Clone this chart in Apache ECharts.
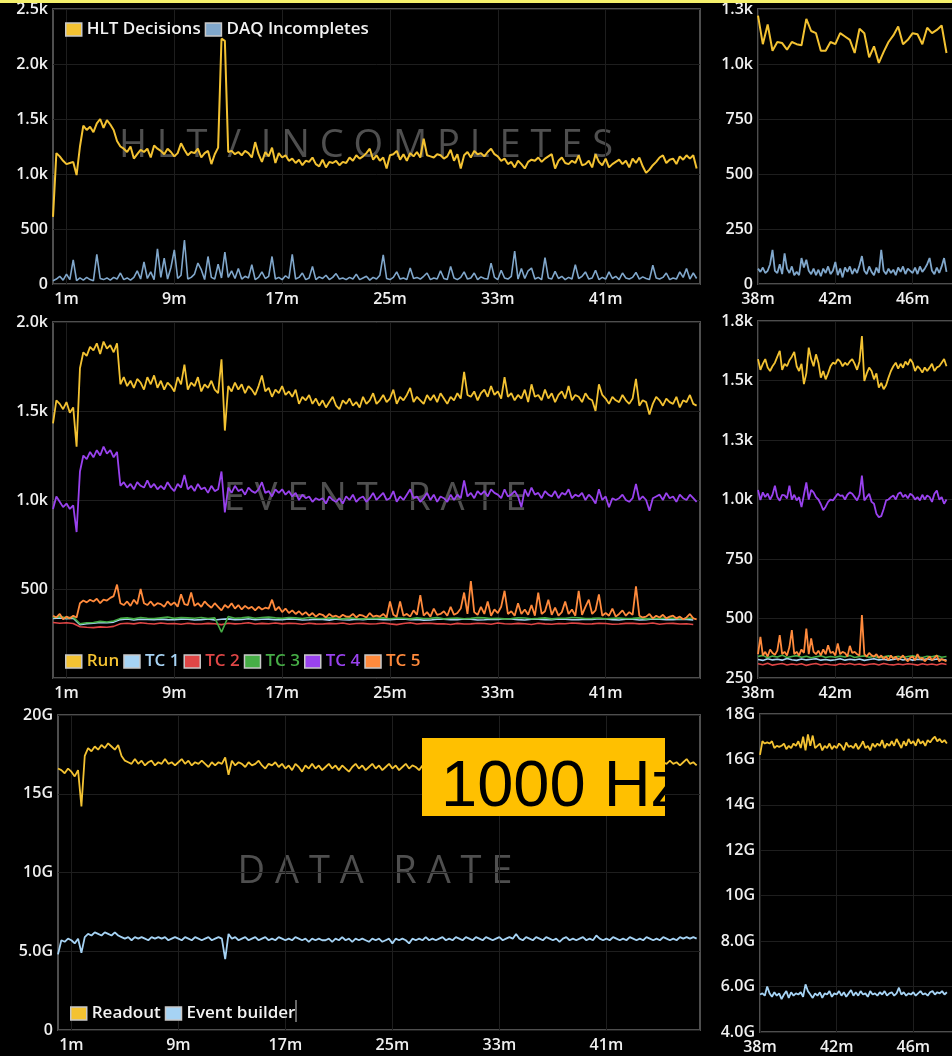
<!DOCTYPE html>
<html><head><meta charset="utf-8">
<script src="https://cdn.jsdelivr.net/npm/echarts@6/dist/echarts.min.js"></script>
<style>
html,body{margin:0;padding:0;background:#000;overflow:hidden;width:952px;height:1056px}
#c{position:absolute;left:0;top:0;width:1000px;height:1056px}
#box{position:absolute;left:422px;top:738px;width:243px;height:78px}
</style>
</head><body><div id="c"></div><div id="box"></div>
<script>
// ---------- tick labels ----------
const leftTicks = [1, 9, 17, 25, 33, 41];
const rightTicks = [38, 42, 46];

// ---------- left column (t = 0 .. 47.75 min) ----------
const hltDecisions = [610,1190,1160,1120, 1090,1100,1110,990, 1250,1440,1400,1430, 1380,1460,1500,1420, 1490,1450,1400,1300, 1250,1230,1200,1250, 1140,1180,1220,1200, 1230,1150,1260,1230, 1210,1180,1230,1200, 1160,1190,1280,1220, 1170,1200,1190,1230, 1150,1190,1210,1090, 1180,1240,2230,2210, 1200,1210,1180,1200, 1170,1210,1190,1150, 1290,1180,1110,1200, 1160,1240,1100,1190, 1150,1170,1120,1140, 1100,1130,1080,1120, 1110,1150,1090,1070, 1130,1060,1110,1100, 1120,1080,1110,1100, 1150,1120,1170,1140, 1160,1190,1230,1130, 1170,1120,1150,1050, 1170,1180,1210,1130, 1180,1120,1190,1160, 1200,1150,1320,1170, 1160,1150,1180,1170, 1140,1160,1220,1120, 1180,1050,1170,1200, 1150,1210,1180,1190, 1160,1200,1230,1180, 1160,1120,1140,1090, 1110,1060,1120,1090, 1050,1110,1130,1120, 1150,1110,1140,1160, 1180,1050,1120,1150, 1100,1090,1120,1100, 1170,1080,1090,1120, 1060,1180,1110,1080, 1140,1060,1090,1110, 1130,1090,1120,1060, 1140,1100,1150,1070, 1010,1040,1080,1110, 1150,1170,1100,1130, 1140,1090,1160,1130, 1170,1140,1170,1050];
const daqIncompletes = [30,45,70,35, 90,40,220,30, 55,35,60,40, 30,270,50,40, 55,35,60,45, 100,40,55,35, 60,120,45,200, 50,110,40,320, 60,235,45,150, 310,50,80,400, 45,60,90,190, 130,40,250,60, 45,180,55,290, 60,120,50,140, 45,70,55,175, 40,60,110,50, 70,250,45,60, 40,75,50,270, 45,60,100,40, 55,160,40,65, 50,80,40,60, 95,45,55,40, 60,45,90,40, 55,70,35,60, 45,80,265,50, 40,60,110,45, 55,40,145,50, 60,45,70,100, 40,55,45,120, 50,40,160,55, 40,60,110,45, 55,100,40,65, 50,45,190,60, 40,125,55,45, 70,300,45,140, 50,120,145,45, 60,40,240,55, 45,115,50,70, 40,60,45,175, 50,70,110,45, 55,125,40,60, 45,110,50,70, 40,100,55,45, 60,105,45,65, 50,40,170,55, 45,60,100,40, 55,45,110,60, 140,45,100,50];

const runRate = [1430,1560,1540,1510, 1550,1490,1520,1300, 1740,1830,1810,1860, 1840,1880,1820,1890, 1850,1870,1830,1880, 1650,1690,1640,1670, 1630,1680,1660,1620, 1690,1650,1700,1630, 1670,1620,1660,1640, 1610,1690,1650,1760, 1620,1660,1640,1690, 1610,1650,1630,1670, 1620,1600,1790,1390, 1640,1610,1660,1620, 1650,1600,1640,1620, 1590,1640,1700,1610, 1630,1580,1620,1600, 1640,1590,1610,1580, 1620,1540,1580,1560, 1590,1540,1570,1530, 1560,1520,1550,1580, 1530,1510,1560,1540, 1570,1530,1550,1520, 1580,1540,1560,1600, 1540,1560,1590,1550, 1570,1620,1540,1580, 1560,1590,1630,1550, 1580,1560,1540,1590, 1560,1590,1550,1600, 1570,1540,1580,1560, 1600,1570,1720,1590, 1580,1610,1560,1600, 1620,1580,1640,1590, 1610,1570,1690,1580, 1600,1560,1590,1570, 1620,1550,1650,1580, 1590,1560,1620,1570, 1600,1550,1590,1610, 1570,1640,1560,1590, 1580,1550,1600,1570, 1560,1500,1650,1590, 1570,1540,1580,1560, 1550,1590,1560,1540, 1570,1680,1530,1560, 1550,1480,1540,1580, 1560,1530,1570,1550, 1540,1580,1520,1560, 1550,1590,1540,1530];
const tc4Rate = [950,1020,990,960, 980,950,970,820, 1160,1250,1230,1270, 1240,1280,1250,1300, 1260,1280,1240,1270, 1080,1100,1070,1090, 1060,1100,1080,1070, 1110,1070,1090,1060, 1080,1060,1100,1070, 1050,1090,1070,1140, 1060,1080,1050,1090, 1060,1070,1040,1080, 1050,1060,1160,930, 1070,1040,1080,1050, 1060,1030,1070,1050, 1040,1060,1100,1040, 1050,1020,1060,1040, 1060,1030,1050,1020, 1040,1000,1030,1010, 1020,990,1010,1000, 1010,980,1020,1000, 990,1010,980,1020, 1000,1030,990,1010, 1020,990,1010,1040, 1000,1020,1040,1000, 1010,1050,990,1020, 1000,1030,1060,1010, 1020,990,1010,1040, 1000,1030,990,1020, 1010,990,1030,1000, 1030,1010,1110,1020, 1040,1010,1050,1030, 1050,1020,1060,1040, 1030,1010,1060,1020, 1030,1050,1020,960, 1060,1020,1070,1030, 1040,1010,1050,1030, 1020,1050,1010,1040, 1030,1060,1010,1030, 1020,1040,1000,1030, 1010,980,1060,1000, 1020,960,1010,1000, 1010,1030,1000,990, 1010,1090,1000,1020, 1000,940,1010,1020, 1030,1000,1040,1010, 1020,990,1030,1010, 1000,1030,1010,990];
const tc5Rate = [350,340,360,330, 345,335,350,340, 420,435,425,440, 430,445,420,440, 435,450,460,525, 420,410,430,405, 440,415,500,420, 410,430,405,420, 415,400,430,410, 425,400,470,415, 410,480,405,420, 400,430,410,395, 420,400,380,410, 395,420,390,410, 385,405,390,400, 380,400,385,395, 390,440,380,400, 370,390,365,380, 360,375,355,370, 350,365,345,360, 355,340,360,345, 350,340,355,345, 345,360,340,355, 350,340,365,345, 350,345,360,340, 430,355,345,430, 350,360,345,380, 355,465,350,370, 345,390,355,360, 375,350,400,355, 365,390,480,360, 545,370,355,400, 360,430,350,385, 365,400,490,360, 375,350,420,360, 385,355,410,350, 480,360,375,440, 355,395,350,370, 430,360,385,350, 490,355,400,440, 360,380,470,350, 365,350,390,345, 360,380,350,370, 355,515,350,340, 345,360,335,350, 340,355,335,345, 350,335,345,330, 340,360,335,330];
// TC 1..3 sampled every 0.5 min
const tc1Rate = [335,338, 333,336, 300,305, 308,312, 310,314, 328,332, 326,330, 329,327, 331,328, 327,331, 330,326, 328,332, 326,330, 332,328, 329,333, 327,330, 331,327, 328,332, 330,326, 327,331, 329,325, 331,327, 326,330, 328,332, 330,327, 327,331, 332,328, 329,325, 326,330, 331,327, 328,332, 330,326, 327,331, 329,333, 332,328, 326,330, 330,327, 328,332, 331,327, 327,330, 329,333, 332,328, 326,330, 330,326, 328,332, 331,327, 327,331, 329,326];
const tc2Rate = [312,308, 310,306, 288,285, 283,287, 285,290, 305,308, 304,310, 306,303, 309,305, 306,302, 308,304, 303,307, 305,300, 308,304, 306,310, 303,307, 305,309, 304,308, 306,302, 308,304, 303,307, 305,309, 302,306, 307,303, 305,309, 304,300, 306,310, 303,307, 308,304, 305,301, 307,303, 304,308, 306,302, 309,305, 303,307, 305,301, 308,304, 302,306, 305,309, 307,303, 304,308, 306,302, 303,307, 308,304, 305,309, 302,306, 307,303, 305,301];
const tc3Rate = [340,345, 338,342, 305,310, 312,318, 315,320, 335,338, 332,340, 336,334, 338,342, 335,340, 338,336, 340,334, 338,258, 345,336, 338,342, 336,340, 342,338, 335,340, 338,334, 340,336, 334,338, 336,332, 338,334, 332,336, 335,338, 333,337, 336,332, 338,334, 335,339, 332,336, 337,333, 335,339, 338,334, 336,332, 334,338, 337,333, 335,338, 332,336, 336,340, 338,334, 335,337, 333,336, 337,334, 335,338, 332,336, 334,337, 336,333, 334,337];

const readoutRate = [16.6,16.5,16.3,16.6, 16.4,16.1,16.5,14.2, 17.4,17.9,17.7,18.0, 17.8,18.1,17.9,18.2, 18.0,17.8,18.1,17.4, 17.1,17.0,16.9,17.2, 16.9,17.1,16.8,17.0, 17.1,16.8,17.0,16.9, 17.2,16.9,17.0,16.8, 17.0,17.2,16.9,17.1, 16.8,17.0,16.9,17.1, 16.9,16.7,17.0,16.8, 17.0,16.9,17.3,16.2, 17.1,16.8,17.0,16.9, 16.7,17.0,16.8,16.9, 17.1,16.8,16.6,16.9, 16.8,17.0,16.7,16.9, 16.6,16.8,16.5,16.9, 16.7,16.4,16.8,16.6, 16.9,16.6,16.8,16.5, 16.7,16.9,16.6,16.8, 16.5,16.8,16.6,16.4, 16.7,16.9,16.6,16.8, 16.5,16.7,16.9,16.6, 16.8,16.5,16.7,16.9, 16.6,16.8,16.5,16.7, 16.9,16.6,16.8,16.7, 16.5,16.8,16.6,16.9, 16.7,16.9,16.6,16.8, 16.9,16.7,17.0,16.8, 16.8,17.0,16.9,16.8, 17.0,16.9,16.8,17.0, 16.9,16.8,17.0,16.9, 16.8,17.0,16.9,17.1, 16.9,16.8,17.0,16.9, 17.0,16.9,16.8,17.0, 16.9,17.1,16.9,16.8, 17.0,16.9,17.1,16.9, 16.8,17.0,16.9,17.1, 16.9,17.0,16.8,17.0, 17.1,16.9,17.0,16.8, 16.9,17.1,16.9,17.0, 17.0,16.8,17.0,16.9, 16.9,17.1,16.8,17.0, 17.0,16.9,17.1,16.9, 16.8,17.0,16.9,17.1, 16.9,17.0,16.8,17.0, 17.2,16.9,17.0,16.8];
const eventBuilderRate = [4.8,5.7,5.6,5.8, 5.7,5.5,5.8,4.9, 5.9,6.1,6.0,6.2, 6.1,6.0,6.2,6.1, 6.0,6.2,6.0,5.9, 5.8,5.9,5.7,5.9, 5.8,5.9,5.8,5.7, 5.9,5.8,5.9,5.8, 5.9,5.7,5.8,5.9, 5.8,5.7,5.9,5.8, 5.7,5.9,5.8,5.7, 5.8,5.9,5.7,5.8, 5.9,5.8,4.5,6.1, 5.8,5.9,5.7,5.8, 5.9,5.7,5.8,5.9, 5.7,5.8,5.9,5.7, 5.8,5.7,5.9,5.8, 5.7,5.8,5.7,5.9, 5.8,5.7,5.8,5.6, 5.8,5.7,5.8,5.7, 5.7,5.8,5.6,5.8, 5.7,5.9,5.7,5.8, 5.6,5.8,5.7,5.8, 5.7,5.6,5.8,5.7, 5.8,5.6,5.7,5.8, 5.5,5.8,5.7,5.8, 5.7,5.5,5.8,5.7, 5.8,5.7,5.9,5.7, 5.8,5.7,5.8,5.9, 5.7,5.8,5.7,5.9, 5.8,5.7,5.9,5.8, 5.7,5.9,5.8,5.7, 5.9,5.8,5.7,5.8, 5.9,5.7,5.8,5.9, 5.8,6.1,5.8,5.7, 5.9,5.8,5.7,5.9, 5.8,5.7,5.9,5.8, 5.7,5.8,5.6,5.8, 5.9,5.7,5.8,5.7, 5.8,5.9,5.7,5.8, 5.7,6.0,5.8,5.7, 5.8,5.7,5.9,5.8, 5.7,5.8,5.7,5.9, 5.8,5.7,5.8,5.7, 5.9,5.8,5.7,5.8, 5.7,5.9,5.8,5.7, 5.8,5.7,5.9,5.8, 5.9,5.8,5.9,5.8];

// ---------- right column (t = 38 .. 47.75 min) ----------
const hltRight = [1220,1090,1180,1060, 1100,1095,1065,1100, 1090,1085,1205,1150, 1140,1060,1060,1100, 1090,1140,1125,1110, 1050,1160,1140,1030, 1080,1005,1055,1100, 1130,1170,1090,1110, 1140,1135,1090,1165, 1140,1155,1175,1050];
const daqRight = [70,55,75,50,60,90,155,60, 50,90,45,139,70,50,80,40, 55,40,118,75,110,60,45,70, 40,65,35,70,50,80,45,60, 100,40,70,30,75,55,80,45, 70,50,85,127,60,45,80,55, 40,75,50,155,60,45,70,50, 65,40,75,55,80,45,70,60, 50,75,45,80,55,70,90,118, 60,45,75,50,80,118,55];
const runRight = [1590,1545,1570,1590,1555,1540,1560,1575, 1600,1625,1545,1570,1560,1585,1600,1620, 1560,1540,1570,1485,1530,1638,1590,1560, 1610,1575,1512,1540,1505,1530,1560,1575, 1570,1590,1580,1560,1575,1565,1580,1590, 1570,1545,1580,1687,1498,1530,1554,1540, 1505,1530,1470,1490,1463,1480,1512,1540, 1560,1575,1550,1570,1554,1580,1565,1590, 1575,1540,1560,1550,1533,1555,1540,1554, 1570,1540,1555,1560,1575,1590,1560];
const tc4Right = [1040,998,1030,1010,1025,1000,1020,1058, 1010,995,1020,1017,1005,1058,1000,1020, 996,1010,968,1020,1072,1000,1040,1030, 1010,1000,980,955,970,990,1000,996, 1010,1024,1015,1017,1000,1020,1030,1024, 1010,996,1020,1100,996,1010,1024,990, 982,940,926,930,960,996,1000,1010, 1017,1000,1024,1030,1010,1020,1005,1024, 1017,1000,1010,996,1020,1000,1017,1010, 990,1024,1038,1000,1010,982,1000];
const tc5Right = [350,423,345,360,340,370,355,348, 365,430,350,360,345,380,451,350, 360,345,370,355,458,350,416,360, 350,365,345,370,350,388,355,360, 345,395,350,360,355,340,385,355, 360,350,345,514,350,340,355,345, 340,350,335,345,330,340,325,345, 330,340,325,335,345,330,320,335, 340,325,350,330,335,320,330,340, 325,335,345,320,330,325,320];
const tc1Right = [328,324,331,326, 329,325,332,327, 324,330,326,329, 331,325,328,324, 327,331,325,329, 326,330,324,328, 331,326,329,325, 328,332,326,330, 325,329,327,331, 326,330,328,325];
const tc2Right = [310,306,312,304, 308,311,305,309, 306,310,303,308, 311,305,309,306, 304,310,307,311, 306,309,304,308, 310,305,311,307, 305,309,306,310, 308,304,310,306, 309,305,311,307];
const tc3Right = [340,345,335,342, 338,346,336,340, 344,337,341,335, 339,343,336,340, 337,342,338,345, 336,340,343,337, 341,335,339,343, 337,341,336,340, 343,338,336,341, 339,344,337,340];
const readoutRight = [16.2,16.8,16.7,16.75,16.7,16.8,16.5,16.6, 16.55,16.6,16.7,16.45,16.6,16.5,16.7,16.6, 16.8,16.5,17.0,16.4,17.1,16.6,17.05,16.5, 16.6,16.7,16.4,16.6,16.5,16.7,16.45,16.6, 16.5,16.7,16.6,16.4,16.75,16.55,16.6,16.5, 16.7,16.45,16.6,16.8,16.5,16.6,16.4,16.7, 16.55,16.7,16.6,16.85,16.5,16.7,16.6,16.8, 16.6,16.9,16.7,16.5,16.8,16.6,16.9,16.7, 16.8,16.6,16.9,16.7,16.8,16.6,16.85,16.75, 16.9,17.0,16.8,16.9,16.75,16.85,16.7];
const eventBuilderRight = [5.65,5.7,5.6,6.0,5.7,5.55,5.75,5.6, 5.7,5.45,5.65,5.8,5.5,5.75,5.6,5.7, 5.65,5.75,5.55,6.1,5.8,5.65,5.5,5.7, 5.6,5.75,5.5,5.7,5.65,5.8,5.55,5.7, 5.65,5.8,5.6,5.75,5.55,5.7,5.85,5.6, 5.75,5.6,5.8,5.65,5.7,5.55,5.8,5.65, 5.7,5.6,5.75,5.65,5.8,5.6,5.7,5.75, 5.6,5.7,5.95,5.65,5.75,5.6,5.7,5.65, 5.75,5.6,5.7,5.8,5.65,5.7,5.6,5.75, 5.8,5.65,5.75,5.7,5.8,5.65,5.75];

// ---------- colours ----------
const C = {yellow:'#f3c232', daq:'#80a7cb', light:'#a6d3f4', red:'#df4646', green:'#46ad46', purple:'#9942ee', orange:'#ff8a3c'};
const FONT = "'Open Sans', 'DejaVu Sans', sans-serif";

function pts(t0, dt, vals){ return vals.map((v,i)=>[Math.round((t0+i*dt)*1000)/1000, v]); }
function line(name, idx, t0, dt, vals, color, w){
  return {name, type:'line', xAxisIndex:idx, yAxisIndex:idx, data:pts(t0,dt,vals), showSymbol:false, symbol:'none',
    lineStyle:{color, width:w||1.6}, itemStyle:{color}, silent:true, z:3};
}
const kfmt = v => v >= 1000 ? (v/1000).toFixed(1)+'k' : String(v);
const gfmt = v => v === 0 ? '0' : (v < 10 ? v.toFixed(1) : String(v)) + 'G';
const lab = {color:'#f0f0f0', fontSize:16, fontFamily:FONT, fontWeight:600};
const split = {show:true, lineStyle:{color:'#1e1e1e', width:1}};

const grids = [
  {left:53, top:9, width:647, height:275},
  {left:53, top:322, width:647, height:356},
  {left:58, top:715, width:642, height:315},
  {left:758, top:9, width:232, height:275},
  {left:758, top:321, width:232, height:357},
  {left:760, top:714, width:230, height:318}
].map(g => Object.assign({show:true, borderColor:'#4e4e4e', borderWidth:2, backgroundColor:'transparent'}, g));

function xAx(i, min, max, ticks){
  return {gridIndex:i, type:'value', min, max, axisLine:{show:false},
    axisTick:{show:false, customValues:ticks},
    axisLabel:Object.assign({}, lab, {margin:7, customValues:ticks, formatter:v=>v+'m'}),
    splitLine:split};
}
function yAx(i, min, max, interval, fmt, extra){
  return Object.assign({gridIndex:i, type:'value', min, max, interval, axisLine:{show:false}, axisTick:{show:false},
    axisLabel:Object.assign({}, lab, {margin:5, formatter:fmt}), splitLine:split}, extra||{});
}

const legendBase = {icon:'rect', itemWidth:16, itemHeight:13, itemGap:4, selectedMode:false,
  itemStyle:{borderColor:'#c8c8c8', borderWidth:1.5}};
const legTxt = c => ({color:c, fontSize:17, fontFamily:FONT, fontWeight:600});

const wm = (text, x, y) => ({type:'text', x, y, z:0, silent:true,
  style:{text, fill:'#4f4f4f', font:"38px 'Open Sans', sans-serif", align:'center', verticalAlign:'middle', textAlign:'center', textVerticalAlign:'middle'}});

const option = {
  backgroundColor:'#000',
  animation:false,
  grid:grids,
  xAxis:[xAx(0,0,48,leftTicks), xAx(1,0,48,leftTicks), xAx(2,0,48,leftTicks),
         xAx(3,38,50,rightTicks), xAx(4,38,50,rightTicks), xAx(5,38,50,rightTicks)],
  yAxis:[yAx(0,0,2500,500,kfmt), yAx(1,0,2000,500,kfmt,{axisLabel:Object.assign({},lab,{margin:5,formatter:kfmt,showMinLabel:false})}),
         yAx(2,0,20,5,gfmt), yAx(3,0,1250,250,kfmt), yAx(4,250,1750,250,kfmt), yAx(5,4,18,2,gfmt)],
  legend:[
    Object.assign({}, legendBase, {left:60, top:16, textStyle:legTxt('#f2f2f2'), data:['HLT Decisions','DAQ Incompletes']}),
    Object.assign({}, legendBase, {left:60, top:648, textStyle:legTxt('#f2f2f2'), data:[
      {name:'Run', textStyle:{color:C.yellow}}, {name:'TC 1', textStyle:{color:C.light}}, {name:'TC 2', textStyle:{color:C.red}},
      {name:'TC 3', textStyle:{color:C.green}}, {name:'TC 4', textStyle:{color:C.purple}}, {name:'TC 5', textStyle:{color:C.orange}}]}),
    Object.assign({}, legendBase, {left:65, top:1000, textStyle:legTxt('#f2f2f2'), data:['Readout','Event builder']})
  ],
  graphic:[
    wm('H L T  /  I N C O M P L E T E S', 366, 146),
    wm('E V E N T   R A T E', 375, 499),
    wm('D A T A   R A T E', 375, 872),
    {type:'rect', z:100, silent:true, shape:{x:0, y:0, width:1000, height:3}, style:{fill:'#f4f06c'}},
    {type:'line', z:100, silent:true, shape:{x1:296, y1:1000, x2:296, y2:1022}, style:{stroke:'#cfcfcf', lineWidth:1}}
  ],
  series:[
    line('HLT Decisions', 0, 0, 0.25, hltDecisions, C.yellow, 2),
    line('DAQ Incompletes', 0, 0, 0.25, daqIncompletes, C.daq, 1.6),
    line('Run', 1, 0, 0.25, runRate, C.yellow, 1.8),
    line('TC 1', 1, 0, 0.5, tc1Rate, C.light, 1.6),
    line('TC 2', 1, 0, 0.5, tc2Rate, C.red, 1.6),
    line('TC 3', 1, 0, 0.5, tc3Rate, C.green, 1.6),
    line('TC 4', 1, 0, 0.25, tc4Rate, C.purple, 1.8),
    line('TC 5', 1, 0, 0.25, tc5Rate, C.orange, 1.8),
    line('Readout', 2, 0, 0.25, readoutRate, C.yellow, 1.8),
    line('Event builder', 2, 0, 0.25, eventBuilderRate, C.light, 1.8),
    line('HLT Decisions', 3, 38, 0.25, hltRight, C.yellow, 2),
    line('DAQ Incompletes', 3, 38, 0.125, daqRight, C.daq, 1.8),
    line('Run', 4, 38, 0.125, runRight, C.yellow, 1.8),
    line('TC 1', 4, 38, 0.25, tc1Right, C.light, 1.6),
    line('TC 2', 4, 38, 0.25, tc2Right, C.red, 1.6),
    line('TC 3', 4, 38, 0.25, tc3Right, C.green, 1.6),
    line('TC 4', 4, 38, 0.125, tc4Right, C.purple, 1.8),
    line('TC 5', 4, 38, 0.125, tc5Right, C.orange, 1.8),
    line('Readout', 5, 38, 0.125, readoutRight, C.yellow, 1.8),
    line('Event builder', 5, 38, 0.125, eventBuilderRight, C.light, 1.8)
  ]
};
const chart = echarts.init(document.getElementById('c'), null, {renderer:'canvas'});
chart.setOption(option);

const box = echarts.init(document.getElementById('box'), null, {renderer:'canvas'});
box.setOption({
  backgroundColor:'#ffc000',
  animation:false,
  graphic:[{type:'text', x:19, y:50, silent:true,
    style:{text:'1000 Hz', fill:'#000', font:"65px 'Liberation Sans', Arial, sans-serif", align:'left', verticalAlign:'middle', textAlign:'left', textVerticalAlign:'middle'}}]
});
</script></body></html>
